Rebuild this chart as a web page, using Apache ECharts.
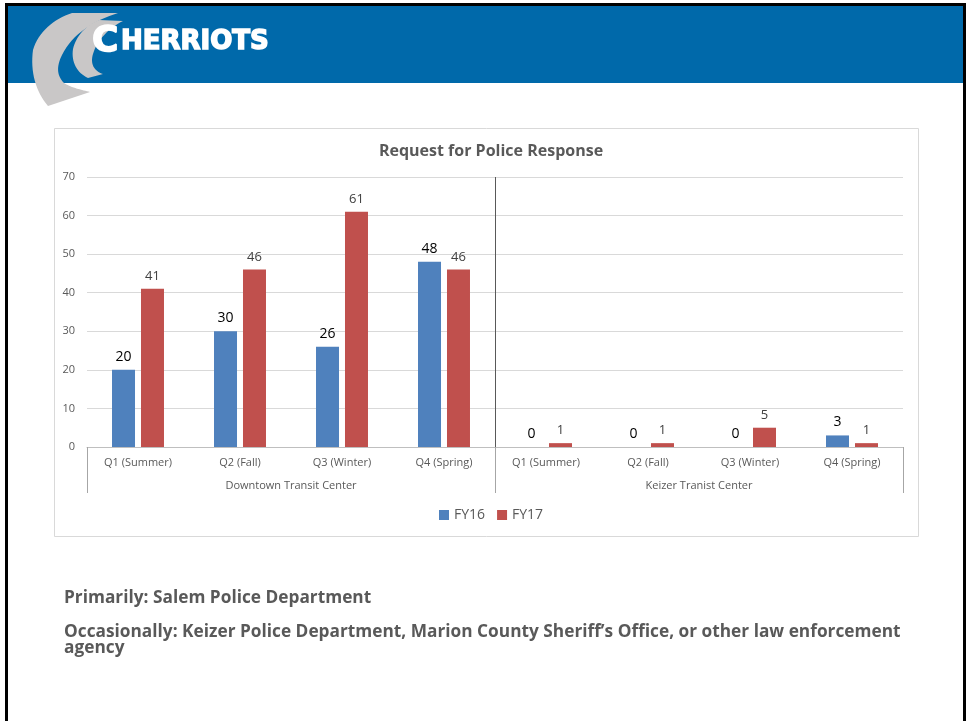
<!DOCTYPE html>
<html>
<head>
<meta charset="utf-8">
<title>Request for Police Response</title>
<script src="https://cdn.jsdelivr.net/npm/echarts@6/dist/echarts.min.js"></script>
<style>
  html, body { margin: 0; padding: 0; background: #ffffff; }
  #main { width: 966px; height: 721px; }
</style>
</head>
<body>
<div id="main"></div>
<script>
// Quarterly police response requests at the two transit centers
const quarters = ['Q1 (Summer)', 'Q2 (Fall)', 'Q3 (Winter)', 'Q4 (Spring)',
                  'Q1 (Summer)', 'Q2 (Fall)', 'Q3 (Winter)', 'Q4 (Spring)'];
const centers = ['Downtown Transit Center', 'Keizer Tranist Center'];
const fy16 = [20, 30, 26, 48, 0, 0, 0, 3];
const fy17 = [41, 46, 61, 46, 1, 1, 5, 1];
const yTicks = { min: 0, max: 70, interval: 10 };

const GRAY = '#595959';
const chart = echarts.init(document.getElementById('main'), null, { renderer: 'canvas' });

// Turn a list of line / cubic segments into polygon points for the logo swooshes
function outline(start, segs) {
  const pts = [start];
  let cur = start;
  segs.forEach(s => {
    if (s.length === 2) { pts.push(s); cur = s; return; }
    const [c1, c2, end] = [s.slice(0, 2), s.slice(2, 4), s.slice(4, 6)];
    for (let i = 1; i <= 16; i++) {
      const t = i / 16, u = 1 - t;
      pts.push([
        u*u*u*cur[0] + 3*u*u*t*c1[0] + 3*u*t*t*c2[0] + t*t*t*end[0],
        u*u*u*cur[1] + 3*u*u*t*c1[1] + 3*u*t*t*c2[1] + t*t*t*end[1]
      ]);
    }
    cur = end;
  });
  return pts;
}

const outerSwoosh = outline([72, 13], [
  [118, 13],
  [95, 20, 72, 34, 62, 55],
  [56, 67, 57, 76, 64, 83],
  [72, 88, 82, 90, 90, 92],
  [48, 106],
  [36, 92, 30, 72, 33, 50],
  [38, 32, 54, 19, 72, 13]
]);
const innerSwoosh = outline([99, 20], [
  [123, 21],
  [109, 28, 97, 40, 93, 54],
  [90, 64, 94, 71, 103, 74],
  [88, 78],
  [77, 73, 71, 62, 73, 49],
  [76, 36, 86, 25, 99, 20]
]);

// Slide furniture: header band, logo, frame and notes
const noteFont = 'bold 17px "Open Sans"';
const noteScale = 1.016;
const slideGraphics = [
  { type: 'rect', shape: { x: 8, y: 6, width: 955, height: 77 }, style: { fill: '#0069aa' }, z: 0 },
  { type: 'polygon', z: 1, shape: { points: outerSwoosh }, style: { fill: '#c9c7c7' } },
  { type: 'polygon', z: 1, shape: { points: innerSwoosh }, style: { fill: '#c9c7c7' } },
  { type: 'text', z: 2, x: 92, y: 42,
    style: { text: 'C', font: 'bold 36px "DejaVu Sans"', fill: '#ffffff', stroke: '#ffffff', lineWidth: 1.5, verticalAlign: 'middle' } },
  { type: 'text', z: 2, x: 121, y: 42,
    style: { text: 'HERRIOTS', font: 'bold 26px "DejaVu Sans"', fill: '#ffffff', stroke: '#ffffff', lineWidth: 1.5, verticalAlign: 'middle' } },
  // black frame
  { type: 'rect', shape: { x: 5, y: 3, width: 961, height: 3 }, style: { fill: '#000000' }, z: 3 },
  { type: 'rect', shape: { x: 5, y: 3, width: 3, height: 718 }, style: { fill: '#000000' }, z: 3 },
  { type: 'rect', shape: { x: 963, y: 3, width: 3, height: 718 }, style: { fill: '#000000' }, z: 3 },
  // chart area border
  { type: 'rect', shape: { x: 54.5, y: 128.5, width: 864, height: 408 },
    style: { fill: 'none', stroke: '#d9d9d9', lineWidth: 1 }, z: 0 },
  // notes under the chart
  { type: 'text', z: 2, x: 64, y: 598, scaleX: noteScale,
    style: { text: 'Primarily: Salem Police Department', font: noteFont, fill: GRAY, verticalAlign: 'middle' } },
  { type: 'text', z: 2, x: 64, y: 632, scaleX: noteScale,
    style: { text: 'Occasionally: Keizer Police Department, Marion County Sheriff\u2019s Office, or other law enforcement', font: noteFont, fill: GRAY, verticalAlign: 'middle' } },
  { type: 'text', z: 2, x: 64, y: 648, scaleX: noteScale,
    style: { text: 'agency', font: noteFont, fill: GRAY, verticalAlign: 'middle' } }
];

const option = {
  animation: false,
  backgroundColor: '#ffffff',
  textStyle: { fontFamily: '"Open Sans", "Noto Sans", sans-serif' },
  title: {
    text: 'Request for Police Response',
    left: 486, top: 138, textAlign: 'center',
    textStyle: { fontSize: 16, fontWeight: 'bold', color: GRAY, fontFamily: '"Open Sans", sans-serif' }
  },
  legend: {
    left: 434, top: 503,
    itemWidth: 10, itemHeight: 10, itemGap: 12,
    icon: 'rect',
    textStyle: { fontSize: 14, color: GRAY },
    data: ['FY16', 'FY17']
  },
  grid: { left: 87, right: 63, top: 177, bottom: 274, containLabel: false },
  xAxis: [
    {
      type: 'category',
      data: quarters,
      position: 'bottom',
      axisLine: { show: true, lineStyle: { color: '#bfbfbf', width: 1 } },
      axisTick: { show: false },
      axisLabel: { color: GRAY, fontSize: 11, margin: 10, interval: 0 },
      splitLine: { show: false }
    },
    {
      // outer level of the category axis: the two transit centers
      type: 'category',
      data: centers,
      position: 'bottom',
      axisLine: { show: false },
      axisTick: { show: true, length: 46, lineStyle: { color: '#a6a6a6' } },
      axisLabel: { color: GRAY, fontSize: 11, margin: 33, interval: 0 },
      splitLine: { show: false }
    },
    {
      // divider between the two centers, running up through the plot
      type: 'value',
      min: 0, max: 2, interval: 1,
      position: 'bottom',
      axisLine: { show: false },
      axisTick: { show: false },
      axisLabel: { show: false },
      splitLine: { show: true, showMinLine: false, showMaxLine: false, lineStyle: { color: '#595959', width: 1 } }
    }
  ],
  yAxis: {
    type: 'value',
    min: yTicks.min, max: yTicks.max, interval: yTicks.interval,
    axisLine: { show: false },
    axisTick: { show: false },
    axisLabel: { color: GRAY, fontSize: 11, margin: 12 },
    splitLine: { lineStyle: { color: '#d9d9d9', width: 1 } }
  },
  series: [
    {
      name: 'FY16', type: 'bar', data: fy16,
      xAxisIndex: 0,
      barWidth: 23, barGap: '26%',
      itemStyle: { color: '#4f81bd' },
      label: { show: true, position: 'top', distance: 6, fontSize: 14, color: '#000000' }
    },
    {
      name: 'FY17', type: 'bar', data: fy17,
      xAxisIndex: 0,
      barWidth: 23, barGap: '26%',
      itemStyle: { color: '#c0504d' },
      label: { show: true, position: 'top', distance: 6, fontSize: 13, color: '#404040' }
    }
  ],
  graphic: slideGraphics
};

chart.setOption(option);
</script>
</body>
</html>
